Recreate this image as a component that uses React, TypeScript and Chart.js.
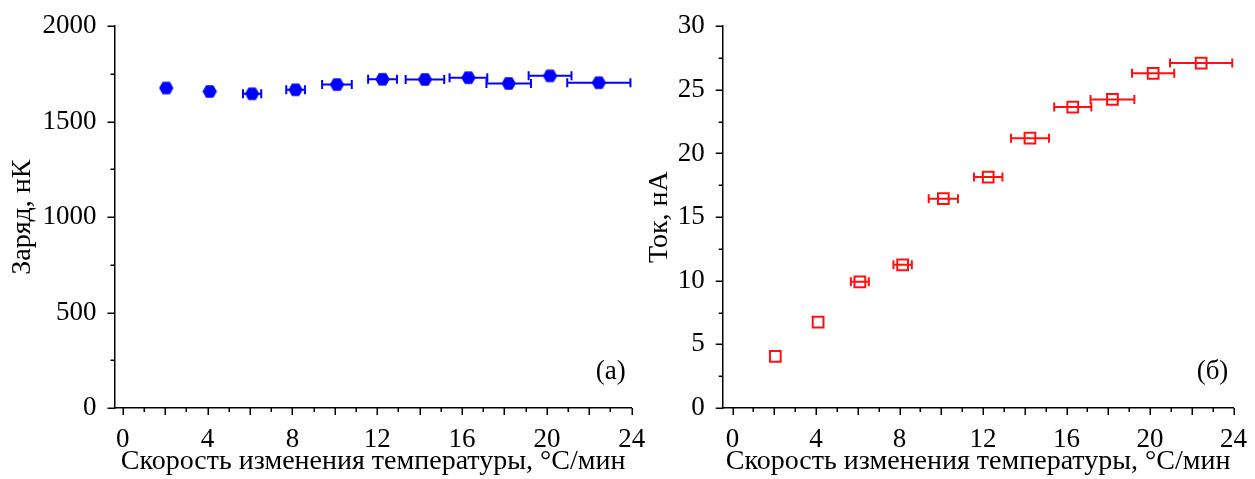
import React, { useEffect, useRef } from 'react';
import { Chart, registerables } from 'chart.js';
Chart.register(...registerables);

// ---- data ----
const rates = [2.05, 4.1, 6.1, 8.15, 10.1, 12.25, 14.25, 16.3, 18.2, 20.15, 22.45];
const rateErr = [0, 0, 0.43, 0.44, 0.7, 0.68, 0.91, 0.89, 1.05, 1.01, 1.49];
const charge = [1676, 1658, 1646, 1667, 1694, 1722, 1721, 1730, 1700, 1740, 1704];
const current = [4.05, 6.75, 9.92, 11.25, 16.45, 18.15, 21.2, 23.65, 24.25, 26.3, 27.1];
const xTickValues = [0, 4, 8, 12, 16, 20, 24];
const chargeTicks = [0, 500, 1000, 1500, 2000];
const currentTicks = [0, 5, 10, 15, 20, 25, 30];
const xTitle = 'Скорость изменения температуры, °С/мин';
const chargeTitle = 'Заряд, нК';
const currentTitle = 'Ток, нА';
const panelLabels = ['(а)', '(б)'];

const FAMILY = "'Liberation Serif', 'Times New Roman', serif";

function makeHex(color: string, r: number) {
  const c = document.createElement('canvas');
  const s = Math.ceil(r * 2 + 2);
  c.width = s;
  c.height = s;
  const ctx = c.getContext('2d')!;
  ctx.beginPath();
  for (let i = 0; i < 6; i++) {
    const a = (i * Math.PI) / 3;
    const px = s / 2 + r * Math.cos(a);
    const py = s / 2 + r * Math.sin(a);
    if (i === 0) ctx.moveTo(px, py);
    else ctx.lineTo(px, py);
  }
  ctx.closePath();
  ctx.fillStyle = color;
  ctx.fill();
  return c;
}

function errorBarPlugin(color: string) {
  return {
    id: 'errBars',
    beforeDatasetsDraw(chart: any) {
      const { ctx, scales } = chart;
      const x = scales.x, y = scales.y;
      const vals = chart.data.datasets[0].data as { x: number; y: number }[];
      ctx.save();
      ctx.strokeStyle = color;
      ctx.lineWidth = 2;
      vals.forEach((p, i) => {
        const e = rateErr[i];
        if (!e) return;
        const x1 = x.getPixelForValue(p.x - e);
        const x2 = x.getPixelForValue(p.x + e);
        const py = y.getPixelForValue(p.y);
        ctx.beginPath();
        ctx.moveTo(x1, py);
        ctx.lineTo(x2, py);
        ctx.moveTo(x1, py - 4.5);
        ctx.lineTo(x1, py + 4.5);
        ctx.moveTo(x2, py - 4.5);
        ctx.lineTo(x2, py + 4.5);
        ctx.stroke();
      });
      ctx.restore();
    },
  };
}

function tickPlugin(yMinor: number, yMajor: number, label: string) {
  return {
    id: 'tickMarks',
    afterDraw(chart: any) {
      const { ctx, scales, chartArea } = chart;
      const x = scales.x, y = scales.y;
      ctx.save();
      ctx.strokeStyle = '#000';
      ctx.lineWidth = 1.5;
      const bottom = chartArea.bottom;
      for (let v = 0; v <= 24 + 1e-9; v += 1) {
        const px = Math.round(x.getPixelForValue(v)) + 0.25;
        const len = v % 2 === 0 ? 7 : 4;
        ctx.beginPath();
        ctx.moveTo(px, bottom);
        ctx.lineTo(px, bottom + len);
        ctx.stroke();
      }
      const left = chartArea.left;
      for (let v = 0; v <= y.max + 1e-9; v += yMinor) {
        const py = Math.round(y.getPixelForValue(v)) + 0.25;
        const major = Math.abs(v / yMajor - Math.round(v / yMajor)) < 1e-6;
        const len = major ? 7 : 4;
        ctx.beginPath();
        ctx.moveTo(left - len, py);
        ctx.lineTo(left, py);
        ctx.stroke();
      }
      ctx.fillStyle = '#000';
      ctx.font = `27px ${FAMILY}`;
      ctx.textAlign = 'center';
      ctx.textBaseline = 'middle';
      ctx.fillText(label, chartArea.right - 21, chartArea.bottom - 36);
      ctx.restore();
    },
  };
}

function buildConfig(opts: {
  ys: number[];
  yMax: number;
  yTicks: number[];
  yTitle: string;
  xMin: number;
  yWidth: number;
  padRight: number;
  titlePad: number;
  point: any;
  color: string;
  yMinor: number;
  yMajor: number;
  label: string;
}) {
  const tickFont = { family: FAMILY, size: 27 };
  const titleFont = { family: FAMILY, size: 28, lineHeight: 1 };
  return {
    type: 'scatter' as const,
    data: {
      datasets: [
        {
          data: rates.map((r, i) => ({ x: r, y: opts.ys[i] })),
          ...opts.point,
        },
      ],
    },
    options: {
      responsive: false,
      animation: false as const,
      layout: { padding: { left: 0, right: opts.padRight, top: 21, bottom: 0 } },
      plugins: { legend: { display: false }, tooltip: { enabled: false } },
      scales: {
        x: {
          type: 'linear' as const,
          min: opts.xMin,
          max: 24,
          grid: { display: false },
          border: { display: true, color: '#000', width: 1.5 },
          afterBuildTicks: (s: any) => {
            s.ticks = xTickValues.map((v) => ({ value: v }));
          },
          afterFit: (s: any) => {
            s.height = 71;
          },
          ticks: {
            font: tickFont,
            color: '#000',
            padding: 8,
            maxRotation: 0,
            autoSkip: false,
            callback: (v: any) => String(v),
          },
          title: { display: true, text: xTitle, font: titleFont, color: '#000', padding: { top: 0, bottom: 3 } },
        },
        y: {
          type: 'linear' as const,
          min: 0,
          max: opts.yMax,
          grid: { display: false },
          border: { display: true, color: '#000', width: 1.5 },
          afterBuildTicks: (s: any) => {
            s.ticks = opts.yTicks.map((v) => ({ value: v }));
          },
          afterFit: (s: any) => {
            s.width = opts.yWidth;
          },
          ticks: { font: tickFont, color: '#000', padding: 10, autoSkip: false, callback: (v: any) => String(v) },
          title: { display: true, text: opts.yTitle, font: titleFont, color: '#000', padding: { top: opts.titlePad, bottom: 0 } },
        },
      },
    },
    plugins: [errorBarPlugin(opts.color), tickPlugin(opts.yMinor, opts.yMajor, opts.label)],
  };
}

export default function App() {
  const leftRef = useRef<HTMLCanvasElement>(null);
  const rightRef = useRef<HTMLCanvasElement>(null);

  useEffect(() => {
    const hex = makeHex('#0000ff', 7.2);
    const left = new Chart(
      leftRef.current!,
      buildConfig({
        ys: charge,
        yMax: 2000,
        yTicks: chargeTicks,
        yTitle: chargeTitle,
        xMin: -0.39,
        yWidth: 114.5,
        padRight: 660 - 631.7,
        titlePad: 9,
        point: { pointStyle: hex, pointRadius: 7, backgroundColor: '#0000ff', borderColor: '#0000ff' },
        color: '#0000ff',
        yMinor: 250,
        yMajor: 500,
        label: panelLabels[0],
      }) as any
    );
    const right = new Chart(
      rightRef.current!,
      buildConfig({
        ys: current,
        yMax: 30,
        yTicks: currentTicks,
        yTitle: currentTitle,
        xMin: -0.47,
        yWidth: 82.7,
        padRight: 615 - 602.5,
        titlePad: 6,
        point: {
          pointStyle: 'rect',
          pointRadius: 7.6,
          borderWidth: 2,
          backgroundColor: 'rgba(0,0,0,0)',
          borderColor: '#ff1010',
        },
        color: '#ff1010',
        yMinor: 2.5,
        yMajor: 5,
        label: panelLabels[1],
      }) as any
    );
    return () => {
      left.destroy();
      right.destroy();
    };
  }, []);

  return (
    <div style={{ position: 'fixed', left: 0, top: 0, width: 1255, height: 479, background: '#fff' }}>
      <canvas ref={leftRef} width={660} height={479} style={{ position: 'absolute', left: 0, top: 0 }} />
      <canvas ref={rightRef} width={615} height={479} style={{ position: 'absolute', left: 640, top: 0 }} />
    </div>
  );
}
